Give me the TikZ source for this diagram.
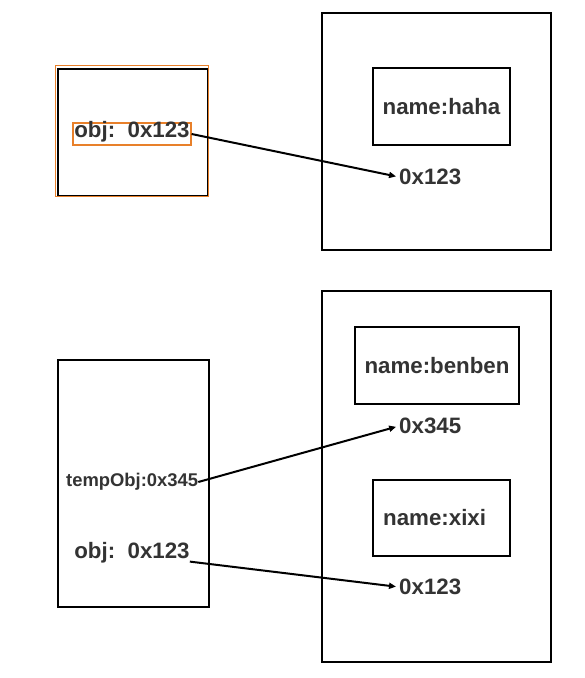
\documentclass[tikz,border=0pt]{standalone}
\usepackage{fontspec}
\setmainfont{Liberation Sans}
\usetikzlibrary{arrows.meta}
\definecolor{txt}{HTML}{333333}
\definecolor{org}{HTML}{E8802A}
\tikzset{
  box/.style={draw=black, line width=2pt, inner sep=0pt, anchor=north west},
  lbl/.style={text=txt, font=\bfseries\fontsize{22.3}{25}\selectfont, inner sep=0pt},
  small/.style={text=txt, font=\bfseries\fontsize{18.4}{22}\selectfont, inner sep=0pt},
  ptr/.style={line width=2pt, shorten >=3pt, -{Triangle[length=7pt,width=6pt]}}
}
\begin{document}
\begin{tikzpicture}[x=1pt,y=-1pt]
\useasboundingbox (0,0) rectangle (585,678);
% top
\node[box, minimum width=150pt, minimum height=127pt] (stack1) at (57,67.5) {};
\draw[org, line width=1.2pt] (55.2,65.7) rectangle (208.8,196.3);
\node[draw=org, line width=1.2pt, minimum width=118pt, minimum height=22pt, inner sep=0pt] (v1) at (132,134) {};
\node[lbl] (obj1) at (132,132) {obj:\ \ 0x123};
\node[box, minimum width=229pt, minimum height=237pt] (heap1) at (321,12) {};
\node[box, minimum width=137pt, minimum height=77pt] (haha) at (372,67) {};
\node[lbl] at (haha.center) {name:haha};
\node[lbl, anchor=west] (a1) at (399,177) {0x123};
\draw[ptr] (v1.east) -- (a1.west);
% bottom
\node[box, minimum width=151pt, minimum height=247pt] (stack2) at (57,359) {};
\node[small, anchor=west] (temp) at (66,482) {tempObj:0x345};
\node[lbl] (obj2) at (132,553) {obj:\ \ 0x123};
\node[box, minimum width=229pt, minimum height=371pt] (heap2) at (321,290) {};
\node[box, minimum width=164pt, minimum height=77pt] (benben) at (354,326) {};
\node[lbl] at (benben.center) {name:benben};
\node[lbl, anchor=west] (a2) at (399,426) {0x345};
\node[box, minimum width=137pt, minimum height=76pt] (xixi) at (372,479) {};
\node[lbl, anchor=west] at (383,518) {name:xixi};
\node[lbl, anchor=west] (a3) at (399,587) {0x123};
\draw[ptr] (temp.east) -- (a2.west);
\draw[ptr] ([yshift=2pt]obj2.south east) -- (a3.west);
\end{tikzpicture}
\end{document}
